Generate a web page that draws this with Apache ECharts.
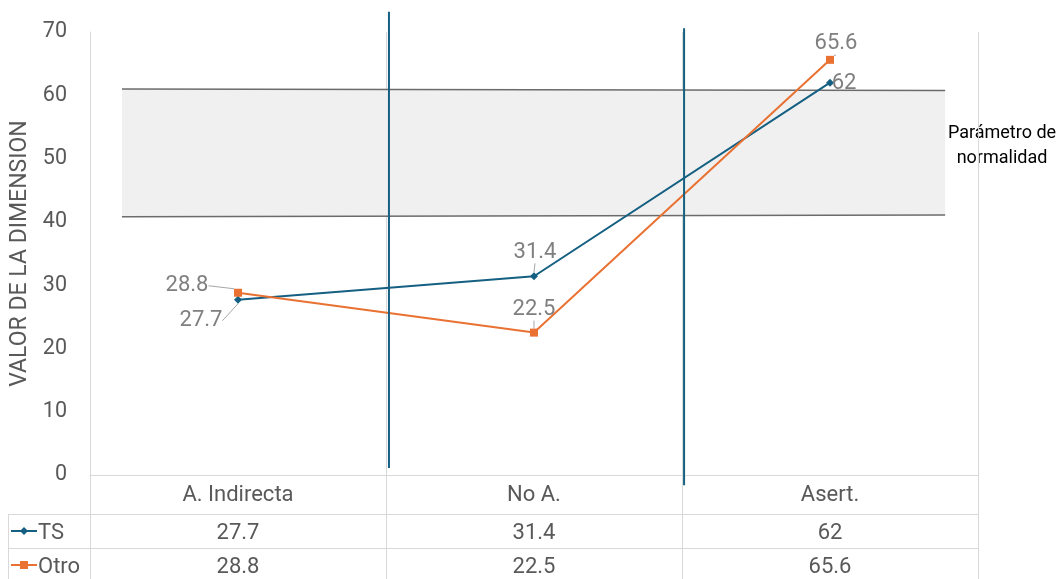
<!DOCTYPE html>
<html>
<head>
<meta charset="utf-8">
<script src="https://cdn.jsdelivr.net/npm/echarts@6/dist/echarts.min.js"></script>
<style>
  html, body { margin: 0; padding: 0; background: #ffffff; }
  #chart { width: 1061px; height: 579px; }
</style>
</head>
<body>
<div id="chart"></div>
<script>
// Categories and series values
const categories = ['A. Indirecta', 'No A.', 'Asert.'];
const tsValues = [27.7, 31.4, 62];
const otroValues = [28.8, 22.5, 65.6];
const seriesNames = ['TS', 'Otro'];

// Y axis range
const yMin = 0, yMax = 70, yStep = 10;

// Normality band (x in category units 0..3 on the overlay axis)
const bandX = [0.108, 2.889];
const bandTop = [61.0, 60.75];
const bandBottom = [40.8, 41.07];
const bandText = 'Parámetro de\nnormalidad';

// Vertical divider lines: x position and [top, bottom] values
const dividerX = [1.01, 2.007];
const dividerY = [[73.2, 1.1], [70.6, -1.6]];

const TEAL = '#156082';
const ORANGE = '#E97132';
const GRID = '#d9d9d9';
const TEXT = '#595959';
const LABEL = '#7f7f7f';
const FONT = 'Roboto, "Liberation Sans", sans-serif';

// Label offsets (px) relative to each point
const tsLabelShift = [[-37, 21], [1, -24], [14, 1]];
const otroLabelShift = [[-51, -7], [0, -23], [6, -16]];

const chart = echarts.init(document.getElementById('chart'));

const tableLabel = { color: TEXT, fontSize: 22, margin: 9, fontFamily: FONT };

const option = {
  animation: false,
  textStyle: { fontFamily: FONT },
  grid: { left: 90, right: 83, top: 32, bottom: 104, containLabel: false },
  xAxis: [
    {
      type: 'category', data: categories, boundaryGap: true,
      axisLine: { show: true, lineStyle: { color: GRID, width: 1 } },
      axisTick: { show: false },
      axisLabel: tableLabel,
      splitLine: { show: true, lineStyle: { color: GRID, width: 1 } }
    },
    { type: 'value', min: 0, max: 3, show: false },
    {
      type: 'category', data: tsValues.map(String), position: 'bottom', offset: 38,
      axisLine: { show: false }, axisTick: { show: false }, splitLine: { show: false },
      axisLabel: tableLabel
    },
    {
      type: 'category', data: otroValues.map(String), position: 'bottom', offset: 72,
      axisLine: { show: false }, axisTick: { show: false }, splitLine: { show: false },
      axisLabel: tableLabel
    }
  ],
  yAxis: {
    type: 'value', min: yMin, max: yMax, interval: yStep,
    name: 'VALOR DE LA DIMENSION', nameLocation: 'middle', nameGap: 50,
    nameTextStyle: { color: TEXT, fontSize: 23, fontFamily: FONT },
    axisLine: { show: true, lineStyle: { color: GRID } },
    axisTick: { show: false },
    splitLine: { show: false },
    axisLabel: { color: TEXT, fontSize: 21.5, margin: 23, fontFamily: FONT }
  },
  series: [
    {
      type: 'custom', xAxisIndex: 1, silent: true, z: 1,
      data: [0],
      renderItem: function (params, api) {
        const pts = [
          api.coord([bandX[0], bandTop[0]]),
          api.coord([bandX[1], bandTop[1]]),
          api.coord([bandX[1], bandBottom[1]]),
          api.coord([bandX[0], bandBottom[0]])
        ];
        return { type: 'polygon', shape: { points: pts }, style: { fill: '#f0f0f0' } };
      }
    },
    {
      type: 'line', xAxisIndex: 1, silent: true, symbol: 'none', z: 2,
      data: [[bandX[0], bandTop[0]], [bandX[1], bandTop[1]]],
      lineStyle: { color: '#6b6b6b', width: 1.5 }
    },
    {
      type: 'line', xAxisIndex: 1, silent: true, symbol: 'none', z: 2,
      data: [[bandX[0], bandBottom[0]], [bandX[1], bandBottom[1]]],
      lineStyle: { color: '#6b6b6b', width: 1.5 }
    },
    ...dividerX.map((x, i) => ({
      type: 'line', xAxisIndex: 1, silent: true, symbol: 'none', clip: false, z: 4,
      data: [[x, dividerY[i][0]], [x, dividerY[i][1]]],
      lineStyle: { color: TEAL, width: 2 }
    })),
    {
      name: seriesNames[0], type: 'line', xAxisIndex: 0, z: 3,
      data: tsValues,
      symbol: 'diamond', symbolSize: 8,
      itemStyle: { color: TEAL },
      lineStyle: { color: TEAL, width: 2 },
      label: { show: true, position: 'inside', color: LABEL, fontSize: 22, fontFamily: FONT },
      labelLine: { show: true, lineStyle: { color: '#a6a6a6', width: 1 } },
      labelLayout: function (p) {
        const s = tsLabelShift[p.dataIndex];
        return { dx: s[0], dy: s[1] };
      }
    },
    {
      name: seriesNames[1], type: 'line', xAxisIndex: 0, z: 3,
      data: otroValues,
      symbol: 'rect', symbolSize: 8,
      itemStyle: { color: ORANGE },
      lineStyle: { color: ORANGE, width: 2 },
      label: { show: true, position: 'inside', color: LABEL, fontSize: 22, fontFamily: FONT },
      labelLine: { show: true, lineStyle: { color: '#a6a6a6', width: 1 } },
      labelLayout: function (p) {
        const s = otroLabelShift[p.dataIndex];
        return { dx: s[0], dy: s[1] };
      }
    }
  ],
  graphic: []
};

chart.setOption(option);

// Data table grid and legend keys beneath the plot
const gx = [0, 1, 2, 3].map(i => chart.convertToPixel({ xAxisIndex: 1 }, i));
const y0 = chart.convertToPixel({ yAxisIndex: 0 }, 0);
const rowY = [531, 565];
const g = [];
const lineStyle = { stroke: GRID, lineWidth: 1 };
g.push({ type: 'line', shape: { x1: 8, y1: 514.5, x2: gx[3], y2: 514.5 }, style: lineStyle });
g.push({ type: 'line', shape: { x1: 8, y1: 548.5, x2: gx[3], y2: 548.5 }, style: lineStyle });
g.push({ type: 'line', shape: { x1: 8.5, y1: 514, x2: 8.5, y2: 579 }, style: lineStyle });
gx.forEach(x => {
  const px = Math.round(x) + 0.5;
  g.push({ type: 'line', shape: { x1: px, y1: y0, x2: px, y2: 579 }, style: lineStyle });
});
const keyColors = [TEAL, ORANGE];
const keySymbols = ['diamond', 'rect'];
seriesNames.forEach((name, i) => {
  const y = rowY[i];
  g.push({ type: 'line', shape: { x1: 11, y1: y, x2: 37, y2: y }, style: { stroke: keyColors[i], lineWidth: 2 } });
  if (keySymbols[i] === 'diamond') {
    g.push({ type: 'polygon', shape: { points: [[24, y - 4], [28, y], [24, y + 4], [20, y]] }, style: { fill: keyColors[i] } });
  } else {
    g.push({ type: 'rect', shape: { x: 20, y: y - 4, width: 8, height: 8 }, style: { fill: keyColors[i] } });
  }
  g.push({ type: 'text', x: 38, y: y + 2, style: { text: name, fill: TEXT, fontSize: 22, fontFamily: FONT, verticalAlign: 'middle', textAlign: 'left' } });
});
g.push({
  type: 'text', x: 1002, y: 146,
  style: { text: bandText, fill: '#000000', fontSize: 18, lineHeight: 25, fontFamily: FONT, textAlign: 'center', verticalAlign: 'middle' }
});
chart.setOption({ graphic: g });
</script>
</body>
</html>
